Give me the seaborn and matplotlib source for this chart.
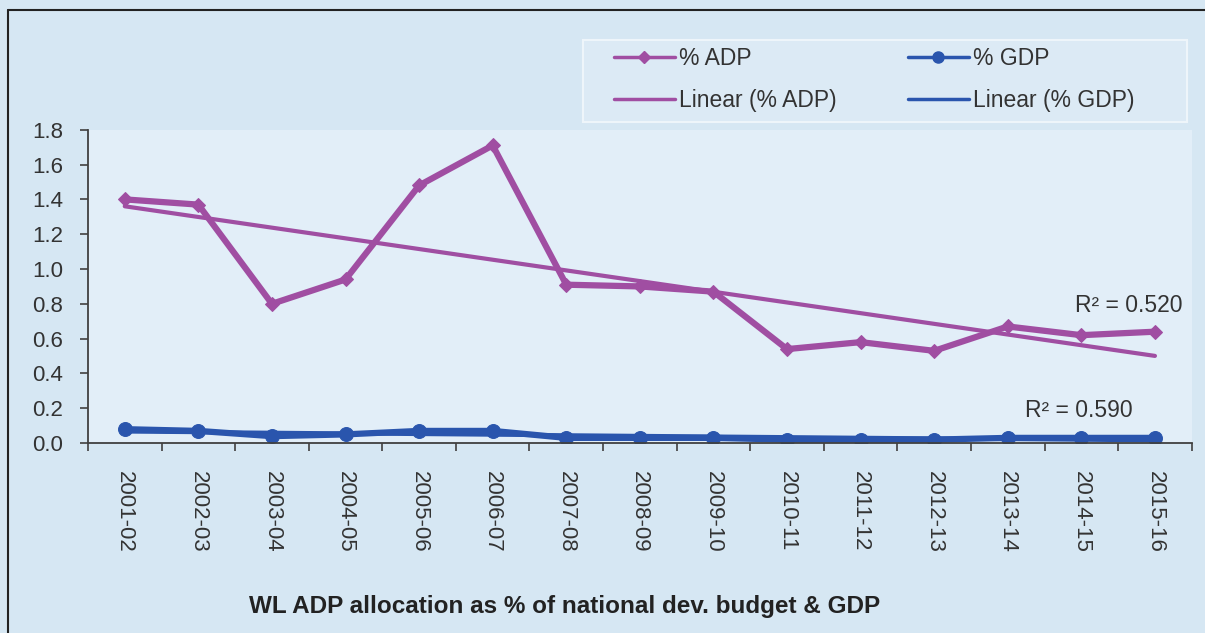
import numpy as np
import pandas as pd
import matplotlib
matplotlib.use("Agg")
import matplotlib.pyplot as plt
import seaborn as sns
from matplotlib.lines import Line2D
from matplotlib.patches import Rectangle

years = ["2001-02", "2002-03", "2003-04", "2004-05", "2005-06", "2006-07", "2007-08",
         "2008-09", "2009-10", "2010-11", "2011-12", "2012-13", "2013-14", "2014-15", "2015-16"]
adp = [1.40, 1.37, 0.80, 0.94, 1.48, 1.71, 0.91, 0.90, 0.87, 0.54, 0.58, 0.53, 0.67, 0.62, 0.64]
gdp = [0.08, 0.07, 0.04, 0.05, 0.07, 0.07, 0.03, 0.03, 0.03, 0.02, 0.02, 0.02, 0.03, 0.03, 0.03]
r2_labels = ["R\u00b2 = 0.520", "R\u00b2 = 0.590"]
yticks = [0.0, 0.2, 0.4, 0.6, 0.8, 1.0, 1.2, 1.4, 1.6, 1.8]
xlabel = "WL ADP allocation as % of national dev. budget & GDP"

sns.set_theme(style="white")
plt.rcParams['font.family'] = ['Liberation Sans', 'DejaVu Sans']

purple = "#a04ea2"
blue = "#2a55ad"
txt = "#333333"

df = pd.DataFrame({"idx": np.arange(len(years)), "year": years, "adp": adp, "gdp": gdp})

fig = plt.figure(figsize=(12.05, 6.33), dpi=100, facecolor="#d6e7f3")
ax = fig.add_axes([0.073, 0.300, 0.916, 0.495])
ax.set_facecolor("#e2eef8")

sns.regplot(data=df, x="idx", y="adp", scatter=False, ci=None, ax=ax,
            line_kws=dict(color=purple, lw=3.0))
sns.regplot(data=df, x="idx", y="gdp", scatter=False, ci=None, ax=ax,
            line_kws=dict(color=blue, lw=3.0))
sns.lineplot(data=df, x="idx", y="adp", ax=ax, color=purple, lw=4.5,
             marker="D", markersize=7, markeredgecolor=purple)
sns.lineplot(data=df, x="idx", y="gdp", ax=ax, color=blue, lw=4.5,
             marker="o", markersize=10, markeredgecolor=blue)

ax.set_xlim(-0.5, len(years) - 0.5)
ax.set_ylim(0, 1.8)
ax.set_yticks(yticks)
ax.set_yticklabels([f"{v:.1f}" for v in yticks], color=txt, fontsize=16)
ax.set_xticks(np.arange(len(years)))
ax.set_xticklabels(years, rotation=-90, color=txt, fontsize=16)
ax.set_xticks(np.arange(-0.5, len(years)), minor=True)
ax.tick_params(axis="x", which="major", length=0, pad=20)
ax.tick_params(axis="x", which="minor", length=6, width=1.2, color="#404040", direction="out", bottom=True)
ax.tick_params(axis="y", length=6, width=1.2, color="#404040", direction="out", pad=12, left=True)
ax.set_xlabel("")
ax.set_ylabel("")
for s in ["top", "right"]:
    ax.spines[s].set_visible(False)
for s in ["left", "bottom"]:
    ax.spines[s].set_color("#404040")
    ax.spines[s].set_linewidth(1.3)
ax.grid(False)

ax.text(13.65, 0.79, r2_labels[0], ha="center", va="center", fontsize=16.5, color=txt)
ax.text(12.97, 0.19, r2_labels[1], ha="center", va="center", fontsize=16.5, color=txt)

# legend frame drawn as a separate box
fig.patches.append(Rectangle((583 / 1205, 1 - 122 / 633), (1187 - 583) / 1205, 82 / 633,
                             transform=fig.transFigure, facecolor="#dceaf5",
                             edgecolor="#eef5fa", lw=1.5, zorder=0))

handles = [
    Line2D([], [], color=purple, lw=2.5, marker="D", markersize=6),
    Line2D([], [], color=purple, lw=2.5),
    Line2D([], [], color=blue, lw=2.5, marker="o", markersize=8),
    Line2D([], [], color=blue, lw=2.5),
]
labels = ["% ADP", "Linear (% ADP)", "% GDP", "Linear (% GDP)"]
leg = fig.legend(handles, labels, ncol=2, loc="upper left",
                 bbox_to_anchor=(614 / 1205, 1 - 47 / 633), bbox_transform=fig.transFigure,
                 frameon=False, fontsize=16.5, handlelength=2.65,
                 handletextpad=0.2, columnspacing=3.1, labelspacing=0.85,
                 borderpad=0.0, borderaxespad=0.0)
for t in leg.get_texts():
    t.set_color(txt)

fig.text(565 / 1205, 1 - 606 / 633, xlabel, ha="center", va="center",
         fontsize=17.5, fontweight="bold", color="#222222")

fig.add_artist(Line2D([8 / 1205, 8 / 1205], [0, 1 - 10 / 633], transform=fig.transFigure,
                      color="#222222", lw=1.5))
fig.add_artist(Line2D([8 / 1205, 1], [1 - 10 / 633, 1 - 10 / 633], transform=fig.transFigure,
                      color="#222222", lw=1.5))

fig.savefig("out.png", dpi=100, facecolor=fig.get_facecolor())
